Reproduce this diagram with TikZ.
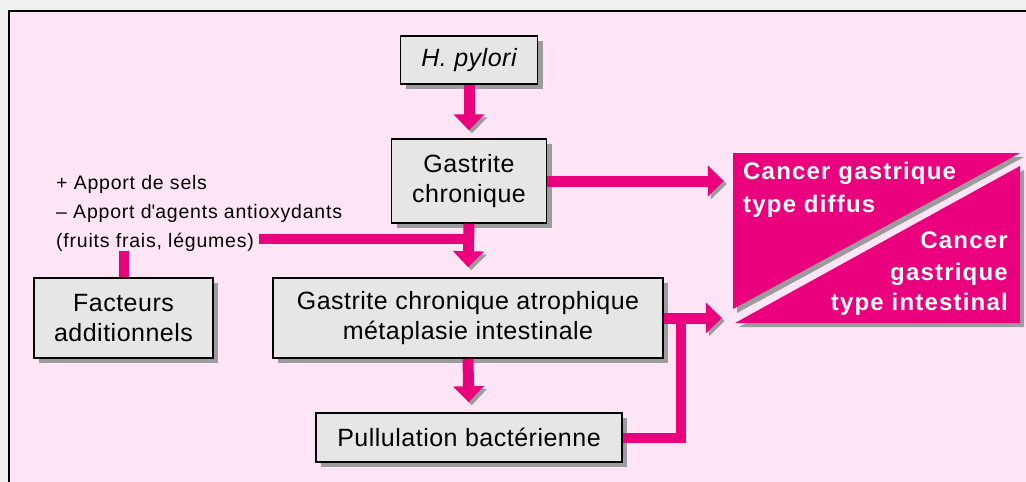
\documentclass[tikz,border=0pt]{standalone}
\usepackage{fontspec}
\setmainfont{Liberation Sans}
\newfontfamily\bxfont[LetterSpace=2]{Liberation Sans}
\newfontfamily\smfont[LetterSpace=4]{Liberation Sans}
\newfontfamily\cafont[LetterSpace=5]{Liberation Sans}
\usetikzlibrary{arrows.meta,shadows}
\definecolor{mag}{HTML}{EA007C}
\definecolor{bgpink}{HTML}{FFE5F6}
\definecolor{boxgray}{HTML}{E6E6E6}
\definecolor{shgray}{HTML}{9C9C9C}
\definecolor{outgray}{HTML}{F0F0F0}
\tikzset{
  box/.style={draw=black, line width=1.5pt, fill=boxgray, inner sep=0pt, align=center,
    font=\bxfont\fontsize{25}{30}\selectfont,
    general shadow={fill=shgray, shadow xshift=5pt, shadow yshift=-5pt}},
  stext/.style={inner sep=0pt, font=\smfont\fontsize{19.5}{29}\selectfont},
  ctext/.style={inner sep=0pt, text=white, font=\cafont\bfseries\fontsize{24}{32}\selectfont},
  pk/.style={draw=mag, line width=11pt, -{Triangle[width=30pt,length=16pt]},
    preaction={draw=shgray, transform canvas={shift={(3pt,-3pt)}}}},
  bar/.style={draw=mag, line width=10pt}
}
\begin{document}
\begin{tikzpicture}[x=1pt,y=-1pt]
\useasboundingbox (0,0) rectangle (1026,482);
\fill[outgray] (0,0) rectangle (1026,482);
\fill[bgpink] (9,11) rectangle (1026,482);
\draw[black, line width=2pt] (9,482) -- (9,11) -- (1026,11);

% cancer box
\node[minimum width=287pt, minimum height=170pt, inner sep=0pt] (cancer) at (876.5,238) {};
\fill[shgray] (737,157) -- (1024,157) -- (737,313) -- cycle;
\fill[shgray] (1024,170) -- (1024,327) -- (739,327) -- cycle;
\fill[mag] (1020,166) -- (1020,323) -- (735,323) -- cycle;
\fill[mag] (733,153) -- (1020,153) -- (733,309) -- cycle;
\node[ctext, anchor=base west] (c1) at (743,179) {Cancer gastrique};
\node[ctext, anchor=base west] (c2) at (743,212) {type diffus};
\node[ctext, anchor=base east] (c3) at (1008,248) {Cancer};
\node[ctext, anchor=base east] (c4) at (1008,280) {gastrique};
\node[ctext, anchor=base east] (c5) at (1008,310) {type intestinal};

% boxes
\node[box, minimum width=137pt, minimum height=48pt] (hp) at (469,60) {\itshape H. pylori};
\node[box, minimum width=155pt, minimum height=84pt] (gc) at (469,181) {Gastrite\\chronique};
\node[box, minimum width=390pt, minimum height=80pt] (atro) at (468,318) {Gastrite chronique atrophique\\métaplasie intestinale};
\node[box, minimum width=179pt, minimum height=80pt] (fa) at (123.5,318) {Facteurs\\additionnels};
\node[box, minimum width=306pt, minimum height=49pt] (pb) at (469,437.5) {Pullulation bactérienne};

% side text
\node[stext, anchor=base west] (l1) at (56,189) {+ Apport de sels};
\node[stext, anchor=base west] (l2) at (56,218) {– Apport d\textquotesingle agents antioxydants};
\node[stext, anchor=base west] (l3) at (56,247) {(fruits frais, légumes)};

% connectors
\coordinate (j) at (469,239);
\coordinate (k) at (681,318);
\draw[bar, shorten <=5pt] (j -| l3.east) -- (j);
\draw[bar] (fa.north) -- (fa.north |- l3.south);
\draw[bar, line join=miter] (pb.east) -| (k);

\draw[pk, shorten >=8pt] (hp.south) -- (gc.north);
\draw[pk, shorten >=10pt] (gc.south) -- (atro.north);
\draw[pk, shorten >=10pt] (atro.south) -- (pb.north);
\draw[pk, shorten >=9pt] (gc.east) -- (gc.east -| cancer.west);
\draw[pk, shorten >=11pt] (atro.east) -- (atro.east -| cancer.west);
\end{tikzpicture}
\end{document}
